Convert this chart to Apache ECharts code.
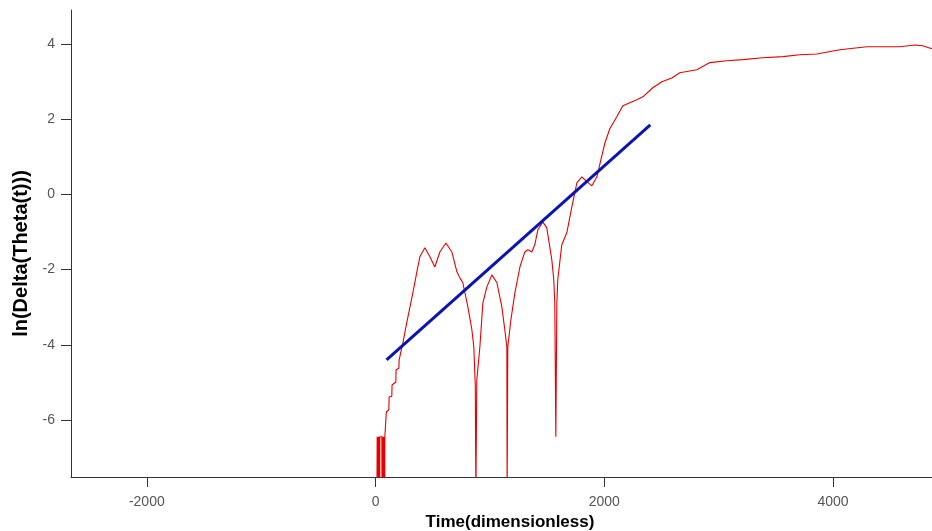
<!DOCTYPE html>
<html>
<head>
<meta charset="utf-8">
<script src="https://cdn.jsdelivr.net/npm/echarts@6/dist/echarts.min.js"></script>
<style>
html,body{margin:0;padding:0;background:#fff;}
#chart{width:932px;height:531px;}
</style>
</head>
<body>
<div id="chart"></div>
<script>
var timeValues = [
  12, 14, 16, 18, 20, 22, 24, 26, 28, 30, 32, 34, 36, 37,
  55, 56, 58, 60, 62, 64, 66, 68, 70, 72, 74, 76, 78, 80, 81,
  83, 94, 116, 118, 125, 142, 144, 151, 177, 179, 186, 204, 206, 212,
  239, 274, 326, 361, 387, 431, 475, 518, 562, 615, 667, 711, 737, 763,
  807, 842, 859, 872, 877, 885, 912, 938, 973, 1017, 1061, 1104, 1130, 1148,
  1150, 1156, 1183, 1218, 1262, 1305, 1331, 1366, 1392, 1419, 1462, 1497,
  1541, 1558, 1567, 1576, 1585, 1593, 1628, 1672, 1716, 1760, 1803, 1847,
  1891, 1935, 1970, 2005, 2048, 2109, 2162, 2284, 2337, 2424, 2503, 2590,
  2660, 2809, 2922, 3071, 3211, 3386, 3561, 3709, 3858, 4059, 4295, 4583,
  4714, 4784, 4863
];
var deltaValues = [
  -8, -6.45, -8, -6.45, -8, -6.45, -8, -6.45, -8, -6.45, -8, -6.45, -8, -6.45,
  -6.45, -8, -6.45, -8, -6.45, -8, -6.45, -8, -6.45, -8, -6.45, -8, -6.45, -8, -6.45,
  -6.45, -5.79, -5.73, -5.39, -5.39, -5.37, -5.07, -5.07, -4.99, -4.67, -4.67, -4.62, -4.40, -4.40,
  -3.95, -3.39, -2.62, -2.06, -1.66, -1.42, -1.66, -1.93, -1.53, -1.29, -1.53, -2.06, -2.22, -2.35,
  -2.99, -3.60, -4.06, -5.12, -8, -4.93, -4.06, -2.89, -2.46, -2.14, -2.35, -2.99, -3.60, -4.06,
  -8, -4.06, -3.34, -2.62, -1.93, -1.53, -1.47, -1.53, -1.34, -0.94, -0.73, -0.89,
  -1.74, -2.27, -2.89, -6.45, -2.89, -2.27, -1.34, -1.02, -0.33, 0.31, 0.47, 0.34,
  0.23, 0.47, 0.92, 1.37, 1.75, 2.07, 2.36, 2.52, 2.60, 2.84, 3.00, 3.10,
  3.24, 3.32, 3.51, 3.56, 3.59, 3.64, 3.67, 3.72, 3.74, 3.85, 3.93, 3.93,
  3.98, 3.96, 3.88
];
var fitTime = [96, 2402];
var fitValue = [-4.40, 1.85];
var xTicks = [-2000, 0, 2000, 4000];
var yTicks = [-6, -4, -2, 0, 2, 4];

function zip(a, b) { return a.map(function (v, i) { return [v, b[i]]; }); }
function plain(v) { return String(v); }

var chart = echarts.init(document.getElementById('chart'), null, {renderer: 'canvas'});
var axisCol = '#333333';
var labelCol = '#555555';
chart.setOption({
  animation: false,
  backgroundColor: '#ffffff',
  grid: {left: 71, right: 0, top: 10, bottom: 54, containLabel: false, outerBoundsMode: 'none'},
  xAxis: {
    type: 'value',
    min: -2663, max: 4865,
    name: 'Time(dimensionless)',
    nameLocation: 'middle',
    nameGap: 31,
    nameTextStyle: {fontFamily: 'Liberation Sans, Arial, sans-serif', fontWeight: 'bold', fontSize: 17, color: '#000', padding: [0, 0, 0, 17]},
    axisLine: {show: true, onZero: false, lineStyle: {color: axisCol, width: 1}},
    axisTick: {show: true, length: 10, customValues: xTicks, lineStyle: {color: axisCol}},
    axisLabel: {customValues: xTicks, formatter: plain, margin: 18, fontFamily: 'Liberation Sans, Arial, sans-serif', fontSize: 14, color: labelCol},
    splitLine: {show: false}
  },
  yAxis: {
    type: 'value',
    min: -7.52, max: 4.91,
    name: 'ln(Delta(Theta(t)))',
    nameLocation: 'middle',
    nameGap: 39,
    nameTextStyle: {fontFamily: 'Liberation Sans, Arial, sans-serif', fontWeight: 'bold', fontSize: 20, color: '#000', padding: [0, 20, 0, 0]},
    axisLine: {show: true, onZero: false, lineStyle: {color: axisCol, width: 1}},
    axisTick: {show: true, length: 10, customValues: yTicks, lineStyle: {color: axisCol}},
    axisLabel: {customValues: yTicks, formatter: plain, margin: 16, fontFamily: 'Liberation Sans, Arial, sans-serif', fontSize: 14, color: labelCol},
    splitLine: {show: false}
  },
  series: [
    {
      type: 'line',
      data: zip(timeValues, deltaValues),
      showSymbol: false,
      symbol: 'none',
      clip: true,
      lineStyle: {color: '#e60000', width: 1.1},
      z: 2
    },
    {
      type: 'line',
      data: zip(fitTime, fitValue),
      showSymbol: false,
      symbol: 'none',
      clip: true,
      lineStyle: {color: '#0a14b0', width: 3},
      z: 3
    }
  ]
});
</script>
</body>
</html>
